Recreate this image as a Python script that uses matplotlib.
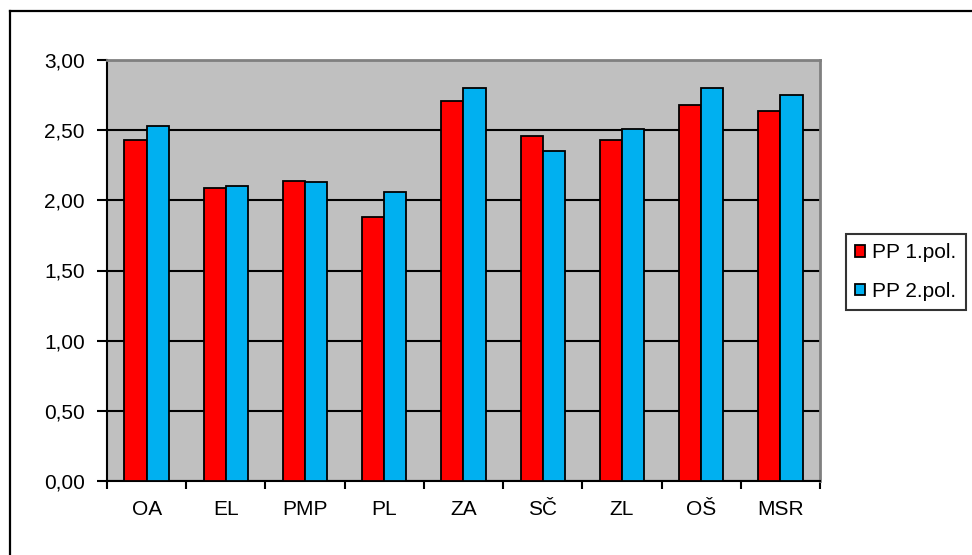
import matplotlib
matplotlib.use("Agg")
import matplotlib.pyplot as plt
import numpy as np
from matplotlib.lines import Line2D

# values
categories = ['OA', 'EL', 'PMP', 'PL', 'ZA', 'SČ', 'ZL', 'OŠ', 'MSR']
pp1 = [2.43, 2.09, 2.14, 1.88, 2.71, 2.46, 2.43, 2.68, 2.64]
pp2 = [2.53, 2.10, 2.13, 2.06, 2.80, 2.35, 2.51, 2.80, 2.75]
series_names = ['PP 1.pol.', 'PP 2.pol.']
y_ticks = [0, 0.5, 1.0, 1.5, 2.0, 2.5, 3.0]

RED = '#FF0000'
BLUE = '#00B0F0'
W, H = 972, 555

plt.rcParams['font.family'] = ['Liberation Sans', 'DejaVu Sans']

fig = plt.figure(figsize=(W / 100, H / 100), dpi=100)
ax = fig.add_axes([107 / W, (H - 481) / H, 713 / W, 421 / H])
ax.set_facecolor('#C0C0C0')

x = np.arange(len(categories))
bw = 0.28
b1 = ax.bar(x - bw / 2, pp1, bw, color=RED, edgecolor='black', linewidth=1.3, zorder=3)
b2 = ax.bar(x + bw / 2, pp2, bw, color=BLUE, edgecolor='black', linewidth=1.3, zorder=3)

ax.set_xlim(-0.5, len(categories) - 0.5)
ax.set_ylim(0, 3)
ax.set_yticks(y_ticks)
ax.set_yticklabels(['{:.2f}'.format(v).replace('.', ',') for v in y_ticks])
ax.yaxis.grid(True, color='black', linewidth=1.5, zorder=1)
ax.set_axisbelow(True)

# category labels in the middle, tick marks between the groups
ax.set_xticks(x)
ax.set_xticklabels(categories)
ax.tick_params(axis='x', which='major', length=0, pad=14, labelsize=15)
ax.set_xticks(np.arange(-0.5, len(categories)), minor=True)
ax.tick_params(axis='x', which='minor', length=6, width=1.5, direction='out')
ax.tick_params(axis='y', length=7, width=1.5, direction='out', pad=9, labelsize=15)

ax.spines['left'].set_color('black')
ax.spines['left'].set_linewidth(1.5)
ax.spines['bottom'].set_color('black')
ax.spines['bottom'].set_linewidth(1.5)
ax.spines['top'].set_color('#808080')
ax.spines['top'].set_linewidth(2)
ax.spines['right'].set_color('#808080')
ax.spines['right'].set_linewidth(2)

leg = fig.legend([b1, b2], series_names, loc='upper left',
                 bbox_to_anchor=(846 / W, 1 - 234 / H), bbox_transform=fig.transFigure,
                 fontsize=15, frameon=True, fancybox=False, handlelength=0.45,
                 handleheight=0.45, handletextpad=0.35, labelspacing=0.92,
                 borderpad=0.45, borderaxespad=0)
leg.get_frame().set_edgecolor('black')
leg.get_frame().set_linewidth(1.5)

# outer chart border (only top and left visible in the crop)
fig.add_artist(Line2D([10 / W, 1], [1 - 11 / H, 1 - 11 / H], color='black', linewidth=1.6,
                      transform=fig.transFigure))
fig.add_artist(Line2D([10 / W, 10 / W], [0, 1 - 11 / H], color='black', linewidth=1.6,
                      transform=fig.transFigure))

fig.savefig('out.png', dpi=100, facecolor='white')
